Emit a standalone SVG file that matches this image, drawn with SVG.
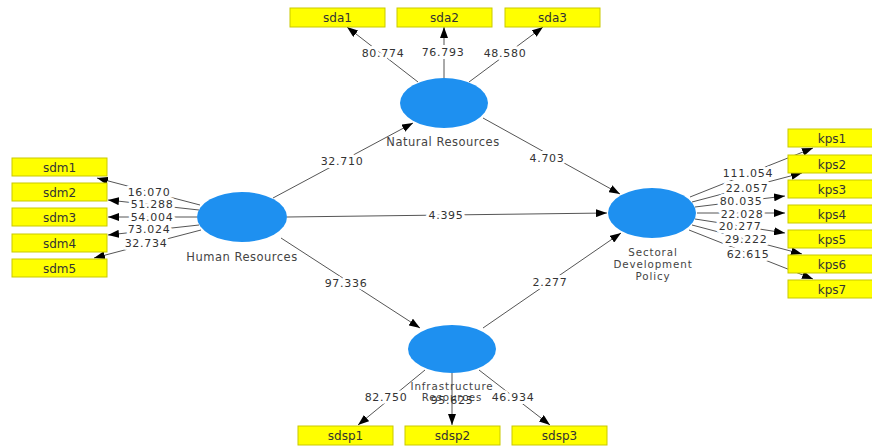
<svg xmlns="http://www.w3.org/2000/svg" width="872" height="446" viewBox="0 0 872 446">
<defs>
<marker id="arr" markerUnits="userSpaceOnUse" markerWidth="11" markerHeight="8" refX="11" refY="4" orient="auto">
<path d="M0,0 L11,4 L0,8 z" fill="#000"/>
</marker>
<style>
.ind rect{fill:#ffff00;stroke:#c9c900;stroke-width:1}
.ind text{font-family:"DejaVu Sans",Verdana,sans-serif;font-size:12px;fill:#333;text-anchor:middle}
.lv ellipse{fill:#1e90f0}
.lv text{font-family:"DejaVu Sans",Verdana,sans-serif;font-size:11.5px;letter-spacing:0.5px;fill:#444;text-anchor:middle}
.lv text.ml{font-size:10.3px;letter-spacing:0.9px}
#connectors line{stroke:#555;stroke-width:1;marker-end:url(#arr)}
.val{font-family:"DejaVu Sans",Verdana,sans-serif;font-size:11px;letter-spacing:0.7px;fill:#333;text-anchor:middle;stroke:#fff;stroke-width:6;paint-order:stroke;stroke-linejoin:round}
</style>
</defs>
<rect width="872" height="446" fill="#fff"/>
<g id="connectors">
<line x1="418" y1="82" x2="347" y2="27"/>
<line x1="444" y1="78" x2="444" y2="27"/>
<line x1="469" y1="82" x2="543" y2="27"/>
<line x1="200" y1="205" x2="97" y2="178"/>
<line x1="199" y1="210" x2="108" y2="200"/>
<line x1="197" y1="217" x2="108" y2="217"/>
<line x1="199" y1="225" x2="108" y2="235"/>
<line x1="201" y1="230" x2="94" y2="258"/>
<line x1="690" y1="197" x2="813" y2="148"/>
<line x1="692" y1="202" x2="802" y2="173"/>
<line x1="695" y1="207" x2="785" y2="196"/>
<line x1="697" y1="213" x2="785" y2="213"/>
<line x1="695" y1="219" x2="785" y2="233"/>
<line x1="692" y1="225" x2="802" y2="254"/>
<line x1="689" y1="230" x2="813" y2="279"/>
<line x1="425" y1="370" x2="358" y2="425"/>
<line x1="452" y1="373" x2="452" y2="425"/>
<line x1="479" y1="370" x2="550" y2="425"/>
<line x1="273" y1="198" x2="413" y2="123"/>
<line x1="483" y1="118" x2="620" y2="194"/>
<line x1="287" y1="217" x2="607" y2="213"/>
<line x1="281" y1="238" x2="420" y2="328"/>
<line x1="483" y1="328" x2="621" y2="233"/>
</g>
<g id="sda1" class="ind"><rect x="290" y="8" width="95" height="19"/><text x="337.5" y="22">sda1</text></g>
<g id="sda2" class="ind"><rect x="397" y="8" width="95" height="19"/><text x="444.5" y="22">sda2</text></g>
<g id="sda3" class="ind"><rect x="505" y="8" width="95" height="19"/><text x="552.5" y="22">sda3</text></g>
<g id="sdm1" class="ind"><rect x="12" y="158" width="95" height="18"/><text x="59.5" y="171.5">sdm1</text></g>
<g id="sdm2" class="ind"><rect x="12" y="183" width="95" height="18"/><text x="59.5" y="196.5">sdm2</text></g>
<g id="sdm3" class="ind"><rect x="12" y="208" width="95" height="18"/><text x="59.5" y="221.5">sdm3</text></g>
<g id="sdm4" class="ind"><rect x="12" y="234" width="95" height="18"/><text x="59.5" y="247.5">sdm4</text></g>
<g id="sdm5" class="ind"><rect x="12" y="259" width="95" height="18"/><text x="59.5" y="272.5">sdm5</text></g>
<g id="kps1" class="ind"><rect x="788" y="129" width="95" height="18"/><text x="832" y="142.5">kps1</text></g>
<g id="kps2" class="ind"><rect x="788" y="155" width="95" height="18"/><text x="832" y="168.5">kps2</text></g>
<g id="kps3" class="ind"><rect x="788" y="180" width="95" height="18"/><text x="832" y="193.5">kps3</text></g>
<g id="kps4" class="ind"><rect x="788" y="205" width="95" height="18"/><text x="832" y="218.5">kps4</text></g>
<g id="kps5" class="ind"><rect x="788" y="230" width="95" height="18"/><text x="832" y="243.5">kps5</text></g>
<g id="kps6" class="ind"><rect x="788" y="255" width="95" height="18"/><text x="832" y="268.5">kps6</text></g>
<g id="kps7" class="ind"><rect x="788" y="280" width="95" height="18"/><text x="832" y="293.5">kps7</text></g>
<g id="sdsp1" class="ind"><rect x="298" y="426" width="95" height="19"/><text x="345.5" y="440">sdsp1</text></g>
<g id="sdsp2" class="ind"><rect x="405" y="426" width="95" height="19"/><text x="452.5" y="440">sdsp2</text></g>
<g id="sdsp3" class="ind"><rect x="512" y="426" width="95" height="19"/><text x="559.5" y="440">sdsp3</text></g>
<g id="natural-resources" class="lv"><ellipse cx="444" cy="103" rx="44" ry="25"/><text x="443" y="146">Natural Resources</text></g>
<g id="human-resources" class="lv"><ellipse cx="242" cy="217" rx="45" ry="25"/><text x="242" y="261">Human Resources</text></g>
<g id="sectoral-development-policy" class="lv"><ellipse cx="652" cy="213" rx="44" ry="25"/><text class="ml" x="653" y="256">Sectoral</text><text class="ml" x="653" y="268">Development</text><text class="ml" x="653" y="280">Policy</text></g>
<g id="infrastructure-resources" class="lv"><ellipse cx="452" cy="349" rx="44" ry="24"/><text class="ml" x="452" y="390">Infrastructure</text><text class="ml" x="452" y="401">Resources</text></g>
<g id="values">
<text class="val" x="383" y="57">80.774</text>
<text class="val" x="443" y="56">76.793</text>
<text class="val" x="505" y="57">48.580</text>
<text class="val" x="149" y="196">16.070</text>
<text class="val" x="152" y="208">51.288</text>
<text class="val" x="152" y="221">54.004</text>
<text class="val" x="149" y="233">73.024</text>
<text class="val" x="146" y="247">32.734</text>
<text class="val" x="748" y="177">111.054</text>
<text class="val" x="747" y="192">22.057</text>
<text class="val" x="741" y="205">80.035</text>
<text class="val" x="742" y="218">22.028</text>
<text class="val" x="740" y="230">20.277</text>
<text class="val" x="746" y="243">29.222</text>
<text class="val" x="748" y="258">62.615</text>
<text class="val" x="342" y="165">32.710</text>
<text class="val" x="547" y="162">4.703</text>
<text class="val" x="446" y="219">4.395</text>
<text class="val" x="346" y="287">97.336</text>
<text class="val" x="550" y="286">2.277</text>
<text class="val" x="386" y="401">82.750</text>
<text class="val" x="513" y="401">46.934</text>
<text x="452" y="404" font-family="DejaVu Sans, Verdana, sans-serif" font-size="11" letter-spacing="0.7" fill="#333" text-anchor="middle">95.625</text>
</g>
</svg>
